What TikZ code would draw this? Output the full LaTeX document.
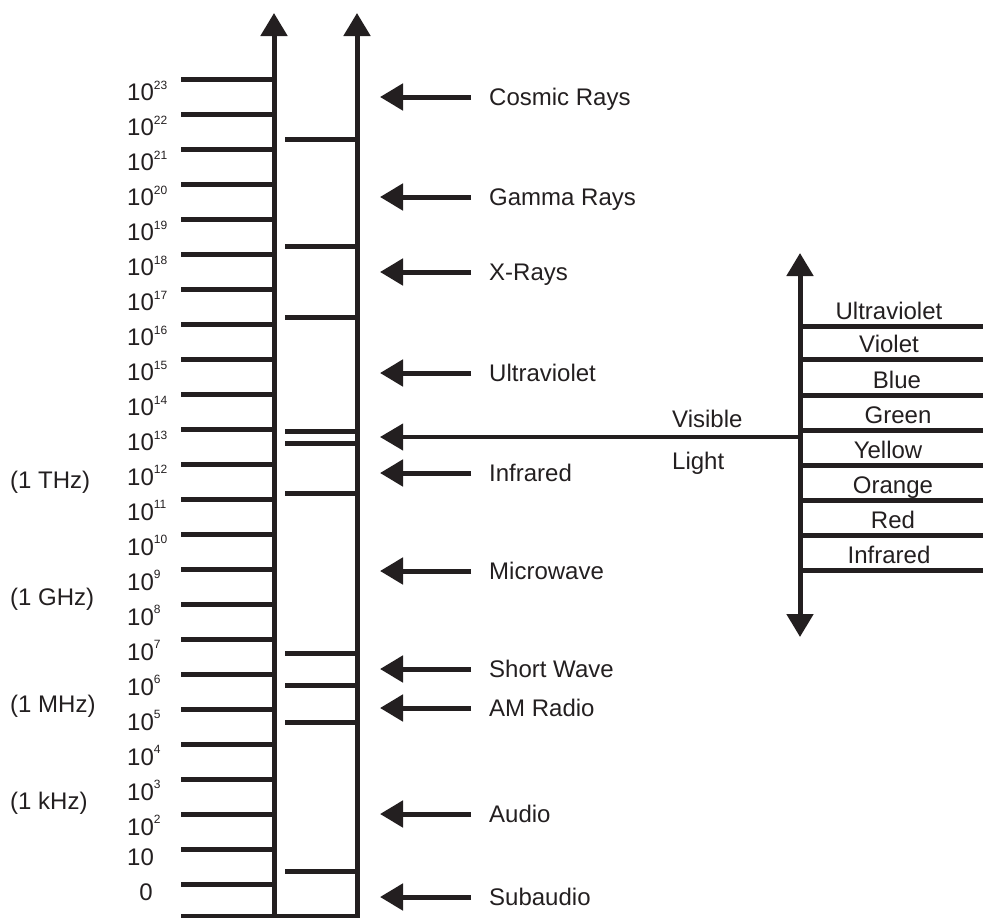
\documentclass[tikz,border=0pt]{standalone}
\usepackage{fontspec}
\setmainfont{Liberation Sans}
\usetikzlibrary{arrows.meta}
\definecolor{ink}{RGB}{35,31,32}
\newcommand\pw[1]{10\raisebox{11.5pt}{\fontsize{12}{12}\selectfont #1}}
\begin{document}
\begin{tikzpicture}[x=1pt,y=-1pt,
  inkline/.style={draw=ink, line width=5pt},
  lbl/.style={inner sep=0pt, font=\fontsize{24}{28}\selectfont, text=ink},
  bigtip/.style={-{Triangle[length=23pt,width=26pt]}},
  ]
\useasboundingbox (0,0) rectangle (983,918);
% main axes
\coordinate (A-bot) at (274,920);
\coordinate (A-top) at (274,13);
\coordinate (B-bot) at (357,920);
\coordinate (B-top) at (357,13);
\draw[inkline, bigtip] (A-bot) -- (A-top);
\draw[inkline, bigtip] (B-bot) -- (B-top);
\coordinate (BL) at (181,916);
\draw[inkline] (BL) -- (BL -| B-bot);
% left ticks and labels
\foreach \k in {0,...,23}{
  \coordinate (t\k) at (181,{884-34.96*\k});
  \draw[inkline] (t\k) -- (t\k -| A-bot);
}
\foreach \k in {2,...,23}{
  \node[lbl, anchor=base west] (n\k) at (127,{884-34.96*\k+21}) {\pw{\k}};
}
\node[lbl, anchor=base west] (n1) at (127,{884-34.96+16}) {10};
\node[lbl, anchor=base east] (n0) at (153,900) {0};
% frequency labels
\node[lbl, anchor=base west] (thz) at (10,488) {(1 THz)};
\node[lbl, anchor=base west] (ghz) at (10,605) {(1 GHz)};
\node[lbl, anchor=base west] (mhz) at (10,712) {(1 MHz)};
\node[lbl, anchor=base west] (khz) at (10,809) {(1 kHz)};
% middle ticks
\foreach \y [count=\i] in {139,246,317,431,443,493,653,685,722,871}{
  \coordinate (m\i) at (285,\y);
  \draw[inkline] (m\i) -- (m\i -| B-bot);
}
% band arrows
\foreach \y/\t [count=\i] in {97/Cosmic Rays,197/Gamma Rays,272/X-Rays,373/Ultraviolet,473/Infrared,571/Microwave,669/Short Wave,708/AM Radio,814/Audio,897/Subaudio}{
  \coordinate (tail\i) at (471,\y);
  \coordinate (head\i) at (380,\y);
  \draw[inkline, bigtip] (tail\i) -- (head\i);
  \node[lbl, anchor=base west] (band\i) at (489,{\y+8.5}) {\t};
}
% visible light scale
\coordinate (V-bot) at (800,637);
\coordinate (V-top) at (800,253);
\draw[inkline, {Triangle[length=23pt,width=26pt]}-{Triangle[length=23pt,width=26pt]}] (V-bot) -- (V-top);
\coordinate (vis) at (800,437);
\coordinate (vishead) at (380,437);
\draw[draw=ink, line width=4pt, bigtip] (vis) -- (vishead);
\node[lbl, anchor=base west] (visible) at (672,427) {Visible};
\node[lbl, anchor=base west] (light) at (672,469) {Light};
\foreach \y/\t/\cx [count=\i] in {326/Ultraviolet/889,359/Violet/889,395/Blue/897,430/Green/898,465/Yellow/888,500/Orange/893,535/Red/893,570/Infrared/889}{
  \coordinate (c\i) at (800,\y);
  \coordinate (ce\i) at (990,\y);
  \draw[inkline] (c\i) -- (ce\i);
  \node[lbl, anchor=base] (col\i) at (\cx,{\y-7}) {\t};
}
\end{tikzpicture}
\end{document}
